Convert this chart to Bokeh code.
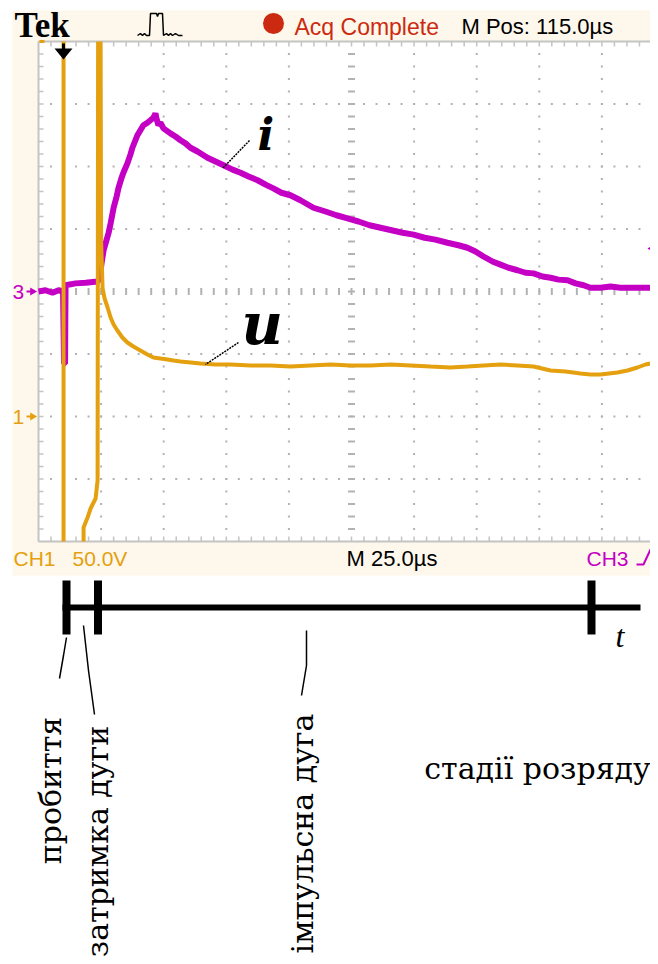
import numpy as np
from bokeh.plotting import figure
from bokeh.models import Range1d
from bokeh.core.properties import value
from bokeh.embed import file_html
from bokeh.resources import INLINE

nan = float("nan")

# ---------------- data ----------------
# CH3 (current i): time in µs from the left edge of the screen, amplitude in divisions above CH3 ground
ch3_t = [0.0, 2.8, 5.6, 8.0, 9.8, 10.2, 10.6, 10.8, 14.8, 18.8, 23.6, 24.4, 25.2, 26.0, 26.8, 28.0,
         28.8, 30.0, 31.2, 31.9, 33.1, 33.9, 35.5, 36.7, 37.5, 38.7, 39.5, 40.7, 41.9, 43.5, 44.7,
         45.9, 46.7, 47.1, 47.9, 48.7, 49.9, 52.7, 54.7, 56.7, 58.7, 60.7, 63.5, 67.5, 70.7, 73.9,
         77.5, 80.7, 83.9, 87.5, 90.7, 93.8, 97.0, 100.6, 104.6, 109.8, 114.6, 119.0, 123.4, 127.8,
         132.2, 136.6, 141.0, 145.4, 149.8, 154.2, 158.5, 163.3, 167.7, 171.3, 174.5, 177.7, 181.3,
         184.5, 187.7, 191.3, 194.5, 197.7, 201.3, 204.5, 207.7, 211.3, 214.5, 217.7, 220.4, 224.4,
         228.4, 232.4, 236.4, 240.4, 244.4]
ch3_i = [0.00, 0.02, -0.02, 0.02, 0.00, -1.15, -1.15, 0.10, 0.13, 0.14, 0.16, 0.21, 0.46, 0.66, 0.77,
         0.94, 1.09, 1.34, 1.52, 1.65, 1.81, 1.90, 2.05, 2.19, 2.30, 2.42, 2.50, 2.58, 2.66, 2.70,
         2.74, 2.78, 2.85, 2.77, 2.66, 2.70, 2.61, 2.53, 2.48, 2.42, 2.37, 2.30, 2.24, 2.14, 2.08,
         2.02, 1.95, 1.90, 1.84, 1.78, 1.71, 1.65, 1.58, 1.54, 1.46, 1.34, 1.28, 1.22, 1.17, 1.12,
         1.06, 1.02, 0.98, 0.94, 0.91, 0.86, 0.83, 0.78, 0.74, 0.70, 0.64, 0.56, 0.48, 0.43, 0.38,
         0.34, 0.30, 0.29, 0.24, 0.22, 0.19, 0.18, 0.13, 0.10, 0.06, 0.06, 0.08, 0.06, 0.06, 0.06, 0.06]

# CH1 (voltage u, 50 V/div): NaN separates the parts that leave the screen
ch1_t = [10.0, 10.0, nan,
         18.0, 18.0, 19.6, 20.8, 22.8, 23.6, 23.8, nan,
         24.8, 25.0, 25.6, 26.4, 27.6, 28.8, 30.0, 31.5, 33.5, 35.5, 37.9, 40.7, 43.5, 45.9, 48.7,
         51.5, 53.9, 56.7, 60.7, 64.7, 70.7, 76.7, 84.7, 92.7, 100.6, 108.6, 116.6, 124.6, 132.6,
         140.6, 148.6, 156.5, 164.5, 171.3, 177.7, 184.5, 191.3, 197.7, 204.5, 210.5, 216.5, 220.4,
         224.4, 231.2, 235.2, 239.2, 242.4, 244.4, 247.6]
ch1_u = [300, -100, nan,
         -100, -88.8, -80.8, -73.6, -65.6, -51.2, 300, nan,
         300, 140.8, 102.4, 94.4, 87.2, 79.2, 73.6, 68.8, 63.2, 59.2, 56.0, 52.8, 49.6, 47.2, 46.4,
         45.6, 44.8, 44.0, 43.2, 42.4, 41.6, 41.6, 40.8, 40.8, 40.0, 40.8, 41.6, 40.8, 40.8,
         41.6, 40.8, 40.0, 39.2, 40.0, 40.8, 41.6, 40.8, 40.0, 36.8, 36.0, 34.4, 33.6,
         33.6, 35.2, 36.8, 39.2, 41.6, 42.4, 43.2]

# ---------------- texts ----------------
brand = "Tek"
acq_text = "Acq Complete"
mpos_text = "M Pos: 115.0µs"
ch1_scale = ["CH1", "50.0V"]
timebase = "M 25.0µs"
trig_src = "CH3"
ch_markers = ["3", "1"]
trace_names = ["i", "u"]
stage_names = ["пробиття", "затримка дуги", "імпульсна дуга"]
caption = "стадії розряду"
axis_name = "t"

# ---------------- styling / layout (reference pixel frame) ----------------
ORG = "#e4a00e"
MAG = "#c400c4"
CREAM = "#fdf8eb"
RED = "#cc2a10"
GRID = "#b2b2b2"
FRAME = "#c4c4c4"

X0, DX = 38.0, 62.6      # screen left edge, px per division (horizontal)
YC, DY = 291.0, 62.5     # screen centre, px per division (vertical)
Y1 = YC + 2 * DY         # CH1 ground marker
T_DIV, V_DIV = 25.0, 50.0

L, R, T, B = 0, 650, 0, 956
p = figure(width=R - L, height=B - T, output_backend="svg", toolbar_location=None,
           x_range=Range1d(L, R), y_range=Range1d(B, T),
           x_axis_location=None, y_axis_location=None, min_border=0)
p.outline_line_color = None
p.grid.visible = False
p.background_fill_color = "white"
p.border_fill_color = "white"

p.extra_x_ranges = {"t": Range1d((L - X0) / DX * T_DIV, (R - X0) / DX * T_DIV)}
p.extra_y_ranges = {"div": Range1d((YC - B) / DY, (YC - T) / DY),
                    "volt": Range1d((Y1 - B) / DY * V_DIV, (Y1 - T) / DY * V_DIV)}

# scope body and screen
p.quad(left=[12], right=[664], top=[10], bottom=[575], fill_color=CREAM, line_color=None)
scr_top, scr_bot = YC - 4 * DY, YC + 4 * DY
p.quad(left=[X0], right=[664], top=[scr_top], bottom=[scr_bot], fill_color="white", line_color=None)

# graticule
vx = [X0 + DX * k for k in range(1, 10) if k != 5]
hy = [YC + DY * k for k in range(-3, 4) if k != 0]
sy = [scr_top + DY / 5 * j for j in range(1, 40)]
sx = [X0 + DX / 5 * j for j in range(1, 50)]
dx_, dy_ = [], []
for x in vx:
    for y in sy:
        dx_.append(x); dy_.append(y)
for y in hy:
    for x in sx:
        dx_.append(x); dy_.append(y)
p.rect(x=dx_, y=dy_, width=2, height=2, fill_color=GRID, line_color=None)
# centre lines with small dashes
cx = X0 + 5 * DX
p.rect(x=sx, y=[YC] * len(sx), width=2, height=7, fill_color=GRID, line_color=None)
p.rect(x=[cx] * len(sy), y=sy, width=7, height=2, fill_color=GRID, line_color=None)
# frame with ticks
p.segment(x0=[X0, X0, X0], y0=[scr_top, scr_top, scr_bot], x1=[X0, 664, 664], y1=[scr_bot, scr_top, scr_bot],
          line_color=FRAME, line_width=2)
p.segment(x0=[X0] * len(sy), y0=sy, x1=[X0 + 5] * len(sy), y1=sy, line_color=FRAME, line_width=1.5)
p.segment(x0=sx, y0=[scr_top] * len(sx), x1=sx, y1=[scr_top + 5] * len(sx), line_color=FRAME, line_width=1.5)
p.segment(x0=sx, y0=[scr_bot] * len(sx), x1=sx, y1=[scr_bot - 5] * len(sx), line_color=FRAME, line_width=1.5)
p.segment(x0=[39], y0=[scr_top], x1=[44], y1=[scr_top], line_color=ORG, line_width=3)

# traces
p.line(ch3_t, ch3_i, x_range_name="t", y_range_name="div", line_color=MAG, line_width=6)
p.line(ch1_t, ch1_u, x_range_name="t", y_range_name="volt", line_color=ORG, line_width=4)

# markers on the screen
p.scatter(x=[655], y=[248], marker="triangle", angle=np.pi / 2, size=14, fill_color=MAG, line_color=None)
p.patch(x=[54, 72, 63], y=[48, 48, 59], fill_color="black", line_color=None)
p.segment(x0=[63], y0=[43], x1=[63], y1=[49], line_color="black", line_width=3)

# header
SANS = value("Liberation Sans")
p.text(x=[14], y=[25], text=[brand], text_font=value("Liberation Serif"), text_font_style="bold",
       text_font_size="35px", text_color="black", text_baseline="alphabetic")
p.line(x=[137, 140, 142, 144, 146, 149, 150, 156, 157, 158, 162, 163, 166, 168, 170, 172, 175, 178, 182],
       y=[35, 33, 35, 33, 35, 35, 13, 13, 16, 13, 13, 35, 33, 35, 33, 35, 33, 35, 35],
       line_color="black", line_width=1.5)
p.scatter(x=[273], y=[23], marker="circle", size=21, fill_color=RED, line_color=None)
p.text(x=[294], y=[26], text=[acq_text], text_font=SANS, text_font_size="23px", text_color=RED,
       text_baseline="alphabetic")
p.text(x=[461], y=[26], text=[mpos_text], text_font=SANS, text_font_size="22px", text_color="black",
       text_baseline="alphabetic")

# bottom band of the scope
p.text(x=[13, 72], y=[558, 558], text=ch1_scale, text_font=SANS, text_font_size="21px", text_color=ORG,
       text_baseline="alphabetic")
p.text(x=[346], y=[558], text=[timebase], text_font=SANS, text_font_size="22px", text_color="black",
       text_baseline="alphabetic")
p.text(x=[586], y=[558], text=[trig_src], text_font=SANS, text_font_size="21px", text_color=MAG,
       text_baseline="alphabetic")
p.line(x=[636, 643, 650, 658], y=[564, 564, 549, 549], line_color=MAG, line_width=2)

# channel ground markers
p.text(x=[12, 12], y=[YC, Y1], text=ch_markers, text_font=SANS, text_font_size="21px",
       text_color=[MAG, ORG], text_baseline="middle")
p.scatter(x=[32, 32], y=[YC, Y1], marker="triangle", angle=-np.pi / 2, size=8,
          fill_color=[MAG, ORG], line_color=None)
p.segment(x0=[26, 26], y0=[YC, Y1], x1=[31, 31], y1=[YC, Y1], line_color=[MAG, ORG], line_width=2)

# trace names with leaders
p.text(x=[257, 241], y=[134, 323], text=trace_names, text_font=value("DejaVu Serif"),
       text_font_style="bold italic", text_font_size=["44px", "57px"], text_color="black",
       text_baseline="alphabetic")
p.segment(x0=[249, 238], y0=[140, 342], x1=[222, 205], y1=[168, 364], line_color="black",
          line_width=1.5, line_dash="2 1")

# stage time axis
p.segment(x0=[62], y0=[607], x1=[640], y1=[607], line_color="black", line_width=6)
p.segment(x0=[66, 97.5, 591], y0=[580, 580, 580], x1=[66, 97.5, 591], y1=[634, 634, 634],
          line_color="black", line_width=8)
p.text(x=[615], y=[635], text=[axis_name], text_font=value("Liberation Serif"), text_font_style="italic",
       text_font_size="32px", text_color="black", text_baseline="alphabetic")
# leaders to stage names
p.line(x=[66, 63, 59], y=[637, 655, 678], line_color="black", line_width=1.5)
p.line(x=[83, 88, 94], y=[625, 670, 714], line_color="black", line_width=1.5)
p.line(x=[306, 306, 301], y=[630, 665, 695], line_color="black", line_width=1.5)

SERIF = value("DejaVu Serif")
p.text(x=[50, 97, 302], y=[790, 841, 833], text=stage_names, angle=np.pi / 2, text_font=SERIF,
       text_font_size="30px", text_color="black", text_align="center", text_baseline="alphabetic")
p.text(x=[537], y=[768], text=[caption], text_font=SERIF, text_font_size="30px", text_color="black",
       text_align="center", text_baseline="alphabetic")

open("out.html", "w").write(file_html(p, INLINE))
